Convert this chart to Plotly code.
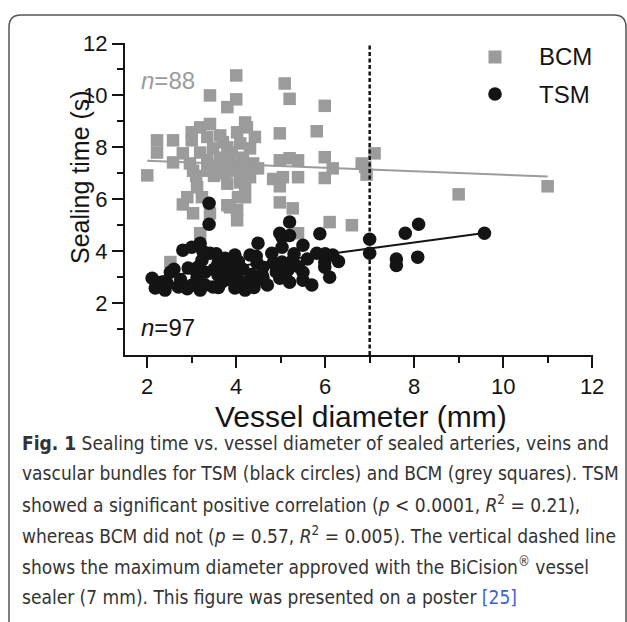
import plotly.graph_objects as go

# ---------------- data ----------------
bcm_x = [2.00, 2.22, 2.22, 2.58, 2.58, 2.80, 2.96, 3.00, 3.00, 3.03,
         3.12, 3.19, 3.19, 3.23, 2.90, 2.80, 3.03, 3.19, 2.52, 3.35,
         3.35, 3.35, 3.41, 3.41, 3.41, 3.48, 3.57, 3.64, 3.64, 3.75,
         3.80, 3.80, 3.80, 3.80, 3.86, 3.86, 4.00, 4.00, 4.02, 4.02,
         4.02, 4.02, 4.04, 4.09, 4.09, 4.15, 4.20, 4.24, 4.24, 4.31,
         4.31, 4.38, 4.42, 4.20, 4.20, 4.49, 4.83, 4.98, 4.98, 4.98,
         4.98, 5.09, 5.20, 5.20, 5.05, 5.27, 5.39, 5.39, 5.39, 5.81,
         5.99, 5.99, 5.99, 6.10, 6.17, 6.60, 6.82, 6.93, 6.90, 7.11,
         9.00, 11.00, 3.10, 3.60, 3.90, 4.10, 3.50, 3.70]
bcm_y = [6.92, 8.27, 7.80, 8.27, 7.42, 7.77, 7.38, 8.58, 8.27, 7.10,
         6.46, 8.77, 7.80, 6.08, 6.08, 5.80, 5.46, 4.69, 3.58, 8.40,
         7.50, 7.10, 10.00, 8.90, 5.46, 7.96, 7.19, 8.46, 7.60, 7.00,
         9.55, 8.00, 6.60, 5.77, 7.42, 5.69, 10.77, 9.85, 8.58, 7.10,
         5.58, 5.19, 6.08, 8.15, 6.65, 7.60, 8.96, 8.77, 7.04, 7.96,
         6.85, 7.38, 8.40, 6.54, 6.08, 7.19, 6.78, 8.54, 7.50, 6.50,
         5.88, 10.46, 9.87, 7.58, 6.85, 5.65, 7.50, 6.85, 4.69, 8.62,
         9.60, 7.62, 6.82, 5.12, 7.19, 5.00, 7.38, 6.95, 7.25, 7.77,
         6.19, 6.50, 6.90, 7.30, 7.80, 7.30, 6.90, 8.20]

tsm_x = [2.11, 2.18, 2.36, 2.40, 2.52, 2.70, 2.80, 2.92, 3.00, 3.00,
         3.12, 3.19, 3.19, 3.23, 3.30, 3.39, 3.39, 3.41, 3.48, 3.59,
         3.59, 3.68, 3.75, 3.79, 3.86, 3.97, 3.97, 4.02, 4.20, 4.24,
         4.31, 4.47, 4.49, 4.58, 4.60, 4.80, 4.83, 4.98, 4.98, 5.03,
         5.03, 5.03, 5.16, 5.20, 5.20, 5.27, 5.50, 5.50, 5.50, 5.88,
         5.81, 5.99, 5.99, 6.17, 7.00, 7.00, 7.60, 7.60, 7.80, 8.10,
         8.08, 9.58, 4.60, 2.45, 2.60, 3.05, 3.15, 3.30, 3.50, 3.60,
         3.70, 3.85, 3.90, 4.05, 4.10, 4.15, 4.35, 4.40, 4.50, 4.70,
         4.90, 5.10, 5.30, 5.40, 5.60, 5.70, 6.00, 6.10, 6.30, 3.80,
         3.25, 2.90, 4.45, 5.20, 4.00, 3.55, 2.75]
tsm_y = [2.96, 2.58, 2.81, 2.50, 3.19, 2.62, 4.04, 3.35, 4.15, 2.69,
         3.00, 4.31, 2.50, 3.65, 3.19, 5.85, 5.04, 3.92, 2.62, 3.08,
         3.54, 2.81, 3.73, 3.08, 3.54, 3.85, 2.58, 3.00, 2.50, 2.81,
         3.85, 3.54, 4.31, 3.08, 3.38, 3.92, 3.54, 4.69, 2.96, 4.54,
         4.15, 3.58, 3.27, 5.12, 4.60, 3.65, 4.23, 3.19, 2.88, 4.67,
         3.92, 3.58, 3.38, 3.85, 4.46, 3.92, 3.70, 3.45, 4.69, 5.04,
         3.77, 4.69, 3.00, 2.75, 3.30, 3.30, 3.40, 2.70, 3.30, 2.60,
         3.50, 2.90, 3.30, 3.60, 2.70, 3.30, 3.10, 2.60, 2.90, 2.70,
         3.20, 3.00, 3.90, 3.40, 3.70, 2.70, 3.90, 3.00, 3.60, 3.30,
         4.00, 2.55, 3.80, 2.80, 3.40, 3.90, 2.90]

# regression line end points
bcm_fit_x = [2.0, 11.0]
bcm_fit_y = [7.48, 6.88]
tsm_fit_x = [2.05, 9.58]
tsm_fit_y = [2.96, 4.70]

x_ticks = [2, 4, 6, 8, 10, 12]
x_minor = [3, 5, 7, 9, 11]
y_ticks = [2, 4, 6, 8, 10, 12]
y_minor = [1, 3, 5, 7, 9, 11]
max_diameter = 7

series_names = ["BCM", "TSM"]
n_labels = ["<i>n</i>=88", "<i>n</i>=97"]

caption_lines = [
    "<b>Fig. 1</b> Sealing time vs. vessel diameter of sealed arteries, veins and",
    "vascular bundles for TSM (black circles) and BCM (grey squares). TSM",
    "showed a significant positive correlation (<i>p</i> < 0.0001, <i>R</i><sup>2</sup> = 0.21),",
    "whereas BCM did not (<i>p</i> = 0.57, <i>R</i><sup>2</sup> = 0.005). The vertical dashed line",
    "shows the maximum diameter approved with the BiCision<sup>®</sup> vessel",
    "sealer (7 mm). This figure was presented on a poster <span style='color:#3a5fd6'>[25]</span>",
]

# ---------------- layout geometry ----------------
W, H = 627, 622
L, R, T, B = 125, 34, 43, 267
PW, PH = W - L - R, H - T - B


def PX(px):
    return (px - L) / PW


def PY(py):
    return (H - B - py) / PH


GREY = "#9b9b9b"
BLACK = "#141414"
FONT = "Liberation Sans, Arial, sans-serif"
CAPFONT = "DejaVu Sans Condensed, DejaVu Sans, sans-serif"

fig = go.Figure()
fig.add_trace(go.Scatter(x=bcm_x, y=bcm_y, mode="markers", name=series_names[0],
                         marker=dict(symbol="square", size=12.5, color=GREY, line=dict(width=0)),
                         showlegend=False))
fig.add_trace(go.Scatter(x=tsm_x, y=tsm_y, mode="markers", name=series_names[1],
                         marker=dict(symbol="circle", size=13.5, color=BLACK, line=dict(width=0)),
                         showlegend=False))
fig.add_trace(go.Scatter(x=bcm_fit_x, y=bcm_fit_y, mode="lines", line=dict(color=GREY, width=2),
                         showlegend=False, hoverinfo="skip"))
fig.add_trace(go.Scatter(x=tsm_fit_x, y=tsm_fit_y, mode="lines", line=dict(color=BLACK, width=2),
                         showlegend=False, hoverinfo="skip"))

shapes = []
# vertical dashed line at the max approved diameter
shapes.append(dict(type="line", xref="x", yref="y", x0=max_diameter, x1=max_diameter, y0=0, y1=11.95,
                   line=dict(color=BLACK, width=2.5, dash="4px,2.5px")))
# legend symbols
shapes.append(dict(type="rect", xref="paper", yref="paper", xsizemode="pixel", ysizemode="pixel",
                   xanchor=PX(495), yanchor=PY(57), x0=-6.5, x1=6.5, y0=-6.5, y1=6.5,
                   fillcolor=GREY, line=dict(width=0)))
shapes.append(dict(type="circle", xref="paper", yref="paper", xsizemode="pixel", ysizemode="pixel",
                   xanchor=PX(495), yanchor=PY(94), x0=-6.8, x1=6.8, y0=-6.8, y1=6.8,
                   fillcolor=BLACK, line=dict(width=0)))
# rounded frame of the figure panel
fl, ft, fr, fb, rr = 9, 15, 626, 650, 12
path = (f"M {PX(fl)},{PY(fb)} L {PX(fl)},{PY(ft + rr)} Q {PX(fl)},{PY(ft)} {PX(fl + rr)},{PY(ft)} "
        f"L {PX(fr - rr)},{PY(ft)} Q {PX(fr)},{PY(ft)} {PX(fr)},{PY(ft + rr)} L {PX(fr)},{PY(fb)}")
shapes.append(dict(type="path", xref="paper", yref="paper", path=path,
                   line=dict(color="#555555", width=1.5)))

ann = []
ann.append(dict(text=series_names[0], x=PX(537), y=PY(57), xref="paper", yref="paper",
                xanchor="left", yanchor="middle", showarrow=False,
                font=dict(family=FONT, size=24, color=BLACK)))
ann.append(dict(text=series_names[1], x=PX(537), y=PY(95), xref="paper", yref="paper",
                xanchor="left", yanchor="middle", showarrow=False,
                font=dict(family=FONT, size=24, color=BLACK)))
ann.append(dict(text=n_labels[0], x=PX(139), y=PY(80), xref="paper", yref="paper",
                xanchor="left", yanchor="middle", showarrow=False,
                font=dict(family=FONT, size=24, color=GREY)))
ann.append(dict(text=n_labels[1], x=PX(139), y=PY(327), xref="paper", yref="paper",
                xanchor="left", yanchor="middle", showarrow=False,
                font=dict(family=FONT, size=24, color=BLACK)))
# axis titles
ann.append(dict(text="Sealing time (s)", x=PX(80), y=PY(177), xref="paper", yref="paper",
                xanchor="center", yanchor="middle", textangle=-90, showarrow=False,
                font=dict(family=FONT, size=25, color=BLACK)))
ann.append(dict(text="Vessel diameter (mm)", x=PX(361), y=PY(416), xref="paper", yref="paper",
                xanchor="center", yanchor="middle", showarrow=False,
                font=dict(family=FONT, size=30, color=BLACK)))
# caption
cap_y = [443, 473, 504, 535, 566, 597]
for line, yy in zip(caption_lines, cap_y):
    ann.append(dict(text=line, x=PX(20), y=PY(yy), xref="paper", yref="paper",
                    xanchor="left", yanchor="middle", showarrow=False,
                    font=dict(family=CAPFONT, size=19, color="#333333")))

axis_common = dict(showline=True, linecolor=BLACK, linewidth=2, ticks="outside",
                   tickcolor=BLACK, tickwidth=2, ticklen=11, showgrid=False, zeroline=False,
                   tickfont=dict(family=FONT, size=22, color=BLACK), fixedrange=True)

fig.update_layout(
    width=W, height=H,
    margin=dict(l=L, r=R, t=T, b=B, pad=0),
    paper_bgcolor="white", plot_bgcolor="white",
    xaxis=dict(range=[1.5, 12.02], tickmode="array", tickvals=x_ticks,
               minor=dict(tickmode="array", tickvals=x_minor, ticklen=6, tickwidth=2,
                          tickcolor=BLACK, ticks="outside"),
               **axis_common),
    yaxis=dict(range=[0, 12.02], tickmode="array", tickvals=y_ticks,
               minor=dict(tickmode="array", tickvals=y_minor, ticklen=6, tickwidth=2,
                          tickcolor=BLACK, ticks="outside"),
               **axis_common),
    shapes=shapes,
    annotations=ann,
    showlegend=False,
)

fig.write_html("out.html", config={"displayModeBar": False},
               post_script="document.body.style.margin='0px';")
